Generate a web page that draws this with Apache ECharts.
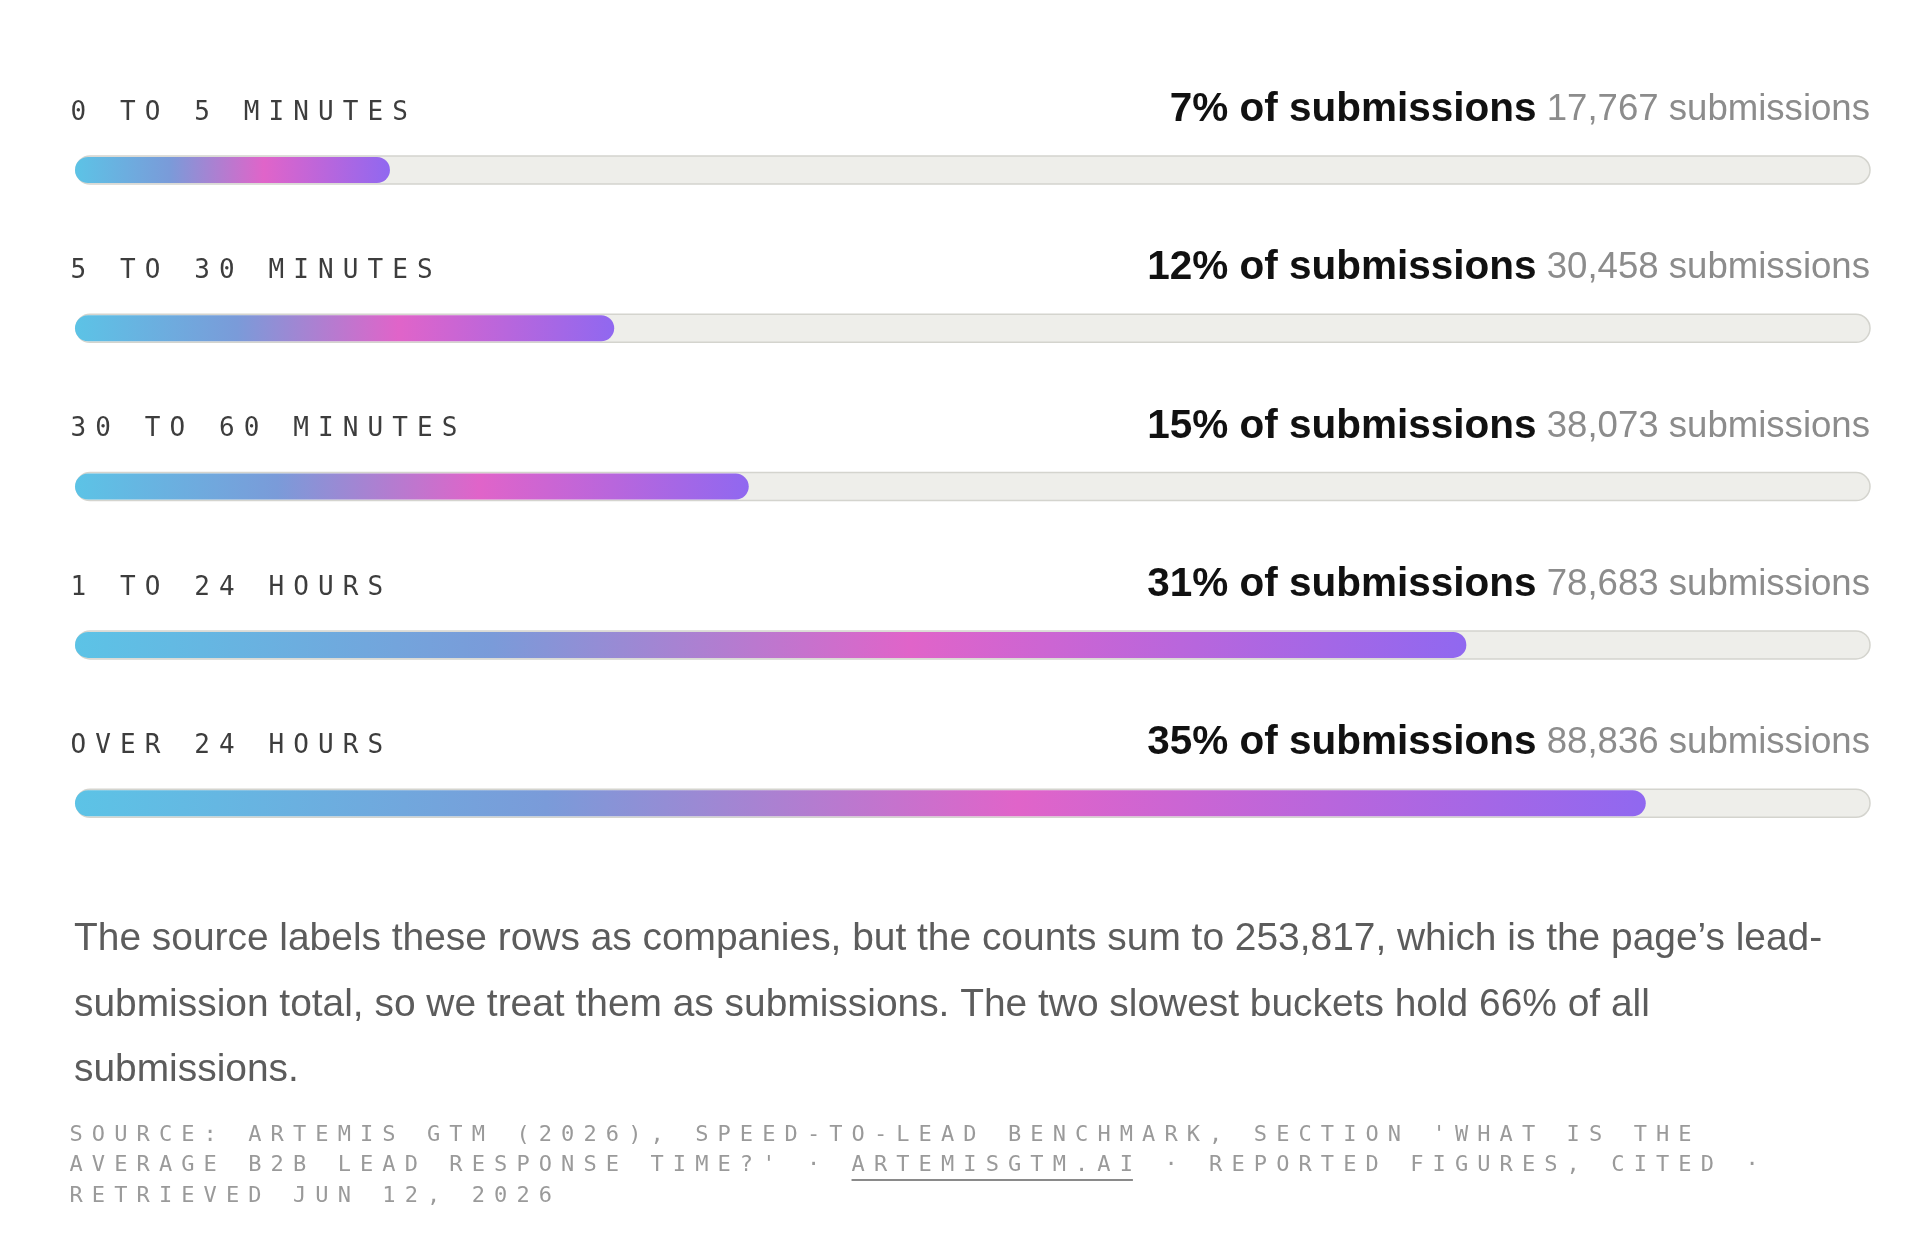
<!DOCTYPE html>
<html>
<head>
<meta charset="utf-8">
<script src="https://cdn.jsdelivr.net/npm/echarts@6/dist/echarts.min.js"></script>
<style>
html, body { margin: 0; padding: 0; background: #ffffff; }
#chart { width: 1920px; height: 1237px; }
</style>
</head>
<body>
<div id="chart"></div>
<script>
// ---------------- data ----------------
const categories = ['0 TO 5 MINUTES', '5 TO 30 MINUTES', '30 TO 60 MINUTES', '1 TO 24 HOURS', 'OVER 24 HOURS'];
const sharePct = [7, 12, 15, 31, 35];
const submissionCounts = [17767, 30458, 38073, 78683, 88836];
const axisMax = 40;
const noteLines = [
  'The source labels these rows as companies, but the counts sum to 253,817, which is the page\u2019s lead-',
  'submission total, so we treat them as submissions. The two slowest buckets hold 66% of all',
  'submissions.'
];
const sourceLines = [
  "SOURCE: ARTEMIS GTM (2026), SPEED-TO-LEAD BENCHMARK, SECTION 'WHAT IS THE",
  "AVERAGE B2B LEAD RESPONSE TIME?' \u00b7 ARTEMISGTM.AI \u00b7 REPORTED FIGURES, CITED \u00b7",
  'RETRIEVED JUN 12, 2026'
];
const linkText = 'ARTEMISGTM.AI';

// ---------------- letter spacing for the monospaced captions ----------------
const MONO = '"DejaVu Sans Mono", monospace';
const SANS = '"Liberation Sans", Arial, sans-serif';
const MONO_TRACK = 9.1;
(function () {
  const proto = CanvasRenderingContext2D.prototype;
  const orig = proto.fillText;
  proto.fillText = function (t, x, y, w) {
    if ('letterSpacing' in this) {
      this.letterSpacing = /Mono/.test(this.font) ? MONO_TRACK + 'px' : '0px';
    }
    return w === undefined ? orig.call(this, t, x, y) : orig.call(this, t, x, y, w);
  };
})();

const fmt = n => n.toLocaleString('en-US');

function barGradient() {
  return new echarts.graphic.LinearGradient(0, 0, 1, 0, [
    { offset: 0, color: '#5cc3e6' },
    { offset: 0.3, color: '#7a9bd9' },
    { offset: 0.6, color: '#e064c9' },
    { offset: 1, color: '#9068f0' }
  ]);
}

const chart = echarts.init(document.getElementById('chart'), null, { renderer: 'canvas' });

const MONO_SIZE = 26;
const SRC_SIZE = 22;
const SRC_PITCH = SRC_SIZE * 0.602 + MONO_TRACK;
const SRC_X = 69.5;
const SRC_TOP = 1120;
const SRC_LH = 30.5;
const linkIdx = sourceLines[1].indexOf(linkText);

const option = {
  animation: false,
  backgroundColor: '#ffffff',
  grid: { left: 76, right: 50, top: 90.85, bottom: 354.65 },
  xAxis: { type: 'value', min: 0, max: axisMax, show: false },
  yAxis: { type: 'category', data: categories, inverse: true, show: false },
  series: [{
    type: 'custom',
    data: sharePct.map((s, i) => [s, i]),
    encode: { x: 0, y: 1 },
    renderItem: function (params, api) {
      const i = api.value(1);
      const v = api.value(0);
      const p0 = api.coord([0, i]);
      const p1 = api.coord([axisMax, i]);
      const pv = api.coord([v, i]);
      const cy = p0[1];
      return {
        type: 'group',
        children: [
          {
            type: 'rect',
            shape: { x: p0[0], y: cy - 14, width: p1[0] - p0[0], height: 28, r: 14 },
            style: { fill: '#eeeeea', stroke: '#d4d4ce', lineWidth: 1.5 }
          },
          {
            type: 'rect',
            shape: { x: p0[0] - 1, y: cy - 13, width: pv[0] - p0[0] + 1, height: 26, r: 13 },
            style: { fill: barGradient() }
          },
          {
            type: 'text',
            x: p0[0] - 5.5,
            y: cy - 57,
            style: {
              text: categories[i],
              fontFamily: MONO, fontSize: MONO_SIZE,
              fill: '#3d3d3d', align: 'left', verticalAlign: 'middle'
            }
          },
          {
            type: 'text',
            x: p1[0],
            y: cy - 60,
            style: {
              text: '{b|' + sharePct[i] + '% of submissions} {c|' + fmt(submissionCounts[i]) + ' submissions}',
              fontFamily: SANS, fontSize: 36.6, fill: '#8c8c8c',
              align: 'right', verticalAlign: 'middle',
              rich: {
                b: { fontFamily: SANS, fontSize: 40.5, fontWeight: 'bold', fill: '#111111' },
                c: { fontFamily: SANS, fontSize: 36.6, fill: '#8c8c8c' }
              }
            }
          }
        ]
      };
    }
  }],
  graphic: [
    {
      type: 'text',
      left: 74,
      top: 907,
      style: {
        text: noteLines.join('\n'),
        fontFamily: SANS, fontSize: 38.9, lineHeight: 65.5,
        fill: '#5c5c5c'
      }
    },
    {
      type: 'text',
      left: SRC_X,
      top: SRC_TOP,
      style: {
        text: sourceLines.join('\n'),
        fontFamily: MONO, fontSize: SRC_SIZE, lineHeight: SRC_LH,
        fill: '#9a9a9a'
      }
    },
    {
      type: 'line',
      shape: {
        x1: SRC_X + linkIdx * SRC_PITCH,
        y1: 1180,
        x2: SRC_X + (linkIdx + linkText.length) * SRC_PITCH - MONO_TRACK,
        y2: 1180
      },
      style: { stroke: '#8a8a8a', lineWidth: 2 }
    }
  ]
};

chart.setOption(option);
</script>
</body>
</html>
